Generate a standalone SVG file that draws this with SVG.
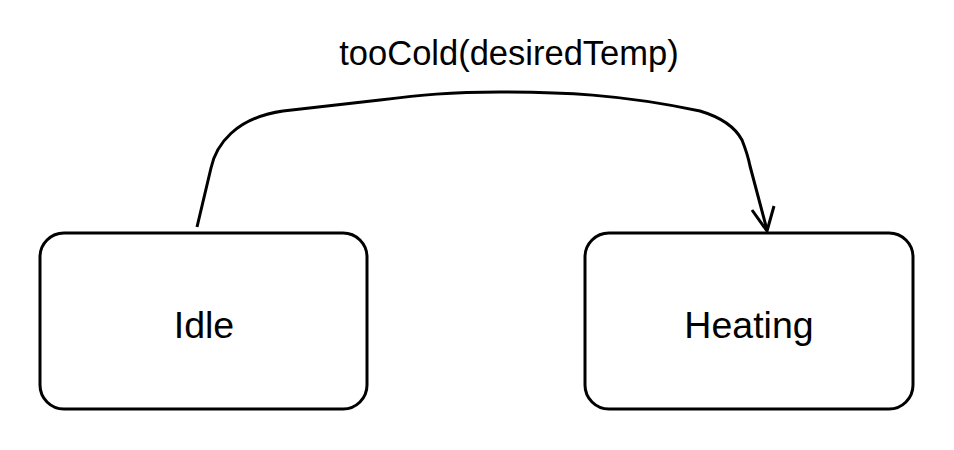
<svg xmlns="http://www.w3.org/2000/svg" width="954" height="450" viewBox="0 0 954 450">
  <style>
    .node { fill: #ffffff; stroke: #000000; stroke-width: 3; }
    .label { font-family: "Liberation Sans", Arial, Helvetica, sans-serif; fill: #000000; text-anchor: middle; }
    .edge { fill: none; stroke: #000000; stroke-width: 3; stroke-linejoin: round; }
  </style>
  <rect width="954" height="450" fill="#ffffff"/>
  <g id="connectors">
    <path class="edge" d="M197,227 L211,168 C216,145 235,118 283,111 L380,100 C420,95 450,92 500,92 C560,92 620,94 700,111 C720,117 735,127 742,140 C746,150 748,156 750,166 L767,230"/>
    <polyline class="edge" points="752,210 767,231 774,206"/>
    <text class="label" x="509" y="65" font-size="34.5">tooCold(desiredTemp)</text>
  </g>
  <g id="idle">
    <rect class="node" x="40" y="233" width="327" height="176" rx="24" ry="24"/>
    <text class="label" x="204" y="338" font-size="37.5">Idle</text>
  </g>
  <g id="heating">
    <rect class="node" x="585" y="233" width="328" height="176" rx="24" ry="24"/>
    <text class="label" x="749" y="338" font-size="37.5">Heating</text>
  </g>
</svg>
